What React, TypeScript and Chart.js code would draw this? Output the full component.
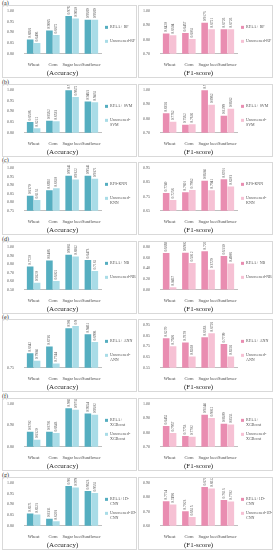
import React, { useEffect, useRef } from "react";
import { Chart, registerables } from "chart.js";
Chart.register(...registerables);

const categories = ["Wheat", "Corn", "Sugar beet", "Sunflower"];
const panelLabels = ["(a)", "(b)", "(c)", "(d)", "(e)", "(f)", "(g)"];

// legend texts (line-wrapped as in the figure)
const legendRFAA = [["RFAA+ RF"], ["RFAA+ SVM"], ["RFS-KNN"], ["RFAA+ NB"], ["RFAA+ ANN"], ["RFAA+", "XGBoost"], ["RFAA+1D-", "CNN"]];
const legendUns = [
  ["Unscreened-RF"],
  ["Unscreened-", "SVM"],
  ["Unscreened-", "KNN"],
  ["Unscreened-NB"],
  ["Unscreened-", "ANN"],
  ["Unscreened-", "XGBoost"],
  ["Unscreened-1D-", "CNN"],
];

// Accuracy
const rfAccRFAA = [0.8668, 0.9085, 0.9763, 0.9589];
const rfAccUns = [0.8496, 0.8872, 0.965, 0.9589];
const svmAccRFAA = [0.8506, 0.8562, 0.9991, 0.9463];
const svmAccUns = [0.8212, 0.8533, 0.9672, 0.9431];
const knnAccRFAA = [0.837, 0.8692, 0.9541, 0.9541];
const knnAccUns = [0.8131, 0.881, 0.9322, 0.9371];
const nbAccRFAA = [0.772, 0.8406, 0.9081, 0.8473];
const nbAccUns = [0.582, 0.6021, 0.8882, 0.7181];
const annAccRFAA = [0.8342, 0.8738, 0.9803, 0.9461];
const annAccUns = [0.7904, 0.7744, 0.9948, 0.8998];
const xgbAccRFAA = [0.8702, 0.8701, 0.9802, 0.9554];
const xgbAccUns = [0.832, 0.8643, 0.9731, 0.9502];
const cnnAccRFAA = [0.8571, 0.8331, 0.9861, 0.9623];
const cnnAccUns = [0.8523, 0.8203, 0.9792, 0.9531];

// F1-score
const rfF1RFAA = [0.842, 0.8457, 0.9173, 0.8726];
const rfF1Uns = [0.8304, 0.8031, 0.8721, 0.8726];
const svmF1RFAA = [0.8358, 0.7562, 0.9991, 0.8199];
const svmF1Uns = [0.7762, 0.7602, 0.8962, 0.8682];
const knnF1RFAA = [0.774, 0.7801, 0.8604, 0.8701];
const knnF1Uns = [0.7258, 0.7962, 0.7941, 0.8203];
const nbF1RFAA = [0.6868, 0.6902, 0.7207, 0.633];
const nbF1Uns = [0.0457, 0.5012, 0.3729, 0.4908];
const annF1RFAA = [0.827, 0.787, 0.8363, 0.7709];
const annF1Uns = [0.7508, 0.656, 0.8728, 0.6558];
const xgbF1RFAA = [0.8452, 0.7753, 0.9244, 0.8609];
const xgbF1Uns = [0.7957, 0.7702, 0.9012, 0.8551];
const cnnF1RFAA = [0.7714, 0.7023, 0.8717, 0.7813];
const cnnF1Uns = [0.7498, 0.6615, 0.8612, 0.7702];

// axis ranges [min, max, step]
const accAxes = [
  [0.8, 1.0, 0.05],
  [0.8, 1.0, 0.05],
  [0.75, 1.0, 0.05],
  [0.5, 1.0, 0.1],
  [0.75, 1.0, 0.1],
  [0.8, 1.0, 0.1],
  [0.8, 1.0, 0.05],
];
const f1Axes = [
  [0.7, 1.0, 0.1],
  [0.7, 1.0, 0.1],
  [0.65, 0.95, 0.1],
  [0.0, 0.8, 0.2],
  [0.55, 0.95, 0.1],
  [0.7, 1.0, 0.1],
  [0.6, 0.9, 0.1],
];

const accRFAA = [rfAccRFAA, svmAccRFAA, knnAccRFAA, nbAccRFAA, annAccRFAA, xgbAccRFAA, cnnAccRFAA];
const accUns = [rfAccUns, svmAccUns, knnAccUns, nbAccUns, annAccUns, xgbAccUns, cnnAccUns];
const f1RFAA = [rfF1RFAA, svmF1RFAA, knnF1RFAA, nbF1RFAA, annF1RFAA, xgbF1RFAA, cnnF1RFAA];
const f1Uns = [rfF1Uns, svmF1Uns, knnF1Uns, nbF1Uns, annF1Uns, xgbF1Uns, cnnF1Uns];

const FONT = "'Liberation Serif', 'DejaVu Serif', serif";

const valueLabelPlugin = {
  id: "valueLabels",
  afterDatasetsDraw(chart: any) {
    const ctx = chart.ctx;
    ctx.save();
    ctx.font = `3.6px ${FONT}`;
    ctx.fillStyle = "#555";
    chart.data.datasets.forEach((ds: any, di: number) => {
      const meta = chart.getDatasetMeta(di);
      meta.data.forEach((el: any, i: number) => {
        const v = ds.data[i];
        ctx.save();
        ctx.translate(el.x, el.y - 1.5);
        ctx.rotate(-Math.PI / 2);
        ctx.textAlign = "left";
        ctx.textBaseline = "middle";
        ctx.fillText(v.toFixed(4), 0, 0);
        ctx.restore();
      });
    });
    ctx.restore();
  },
};

const sideLegendPlugin = {
  id: "sideLegend",
  afterDraw(chart: any) {
    const ctx = chart.ctx;
    const area = chart.chartArea;
    const x = area.right + 4;
    const cy = (area.top + area.bottom) / 2;
    const items = (chart.options.plugins.sideLegend || {}).items || [];
    ctx.save();
    ctx.font = `4px ${FONT}`;
    ctx.textBaseline = "middle";
    ctx.textAlign = "left";
    items.forEach((it: any, k: number) => {
      const y = cy + (k === 0 ? -5 : 9);
      ctx.fillStyle = it.color;
      ctx.fillRect(x, y - 1.5, 3, 3);
      ctx.fillStyle = "#555";
      it.lines.forEach((ln: string, j: number) => {
        ctx.fillText(ln, x + 5, y + j * 4.5);
      });
    });
    ctx.restore();
  },
};

type Spec = {
  a: number[];
  b: number[];
  axis: number[];
  la: string[];
  lb: string[];
  title: string;
  c1: string;
  c2: string;
};

function BarChart({ spec }: { spec: Spec }) {
  const ref = useRef<HTMLCanvasElement>(null);
  useEffect(() => {
    const [mn, mx, st] = spec.axis;
    const chart = new Chart(ref.current as HTMLCanvasElement, {
      type: "bar",
      data: {
        labels: categories,
        datasets: [
          { label: spec.la.join(""), data: spec.a, backgroundColor: spec.c1 },
          { label: spec.lb.join(""), data: spec.b, backgroundColor: spec.c2 },
        ],
      },
      options: {
        responsive: false,
        animation: false,
        devicePixelRatio: 1,
        layout: { padding: { top: 5, left: 2, right: 35, bottom: 0 } },
        datasets: { bar: { categoryPercentage: 0.72, barPercentage: 0.95 } },
        plugins: {
          legend: { display: false },
          tooltip: { enabled: false },
          sideLegend: {
            items: [
              { lines: spec.la, color: spec.c1 },
              { lines: spec.lb, color: spec.c2 },
            ],
          },
        } as any,
        scales: {
          x: {
            grid: { display: false },
            border: { display: true, color: "#bfbfbf" },
            ticks: { color: "#444", font: { size: 4.5, family: FONT, lineHeight: 1.1 }, padding: 1, maxRotation: 0, autoSkip: false },
            title: {
              display: true,
              text: spec.title,
              color: "#222",
              font: { size: 7, family: FONT, lineHeight: 1.05 },
              padding: { top: 1, bottom: 0 },
            },
          },
          y: {
            min: mn,
            max: mx,
            grid: { display: false },
            border: { display: false },
            ticks: {
              stepSize: st,
              color: "#555",
              padding: 2,
              font: { size: 4, family: FONT },
              callback: (v: any) => {
                const n = Number(v);
                const k = Math.round((n - mn) / st);
                if (Math.abs(mn + k * st - n) > 1e-6) return "";
                return n.toFixed(2);
              },
            },
          },
        },
      },
      plugins: [valueLabelPlugin, sideLegendPlugin],
    });
    return () => chart.destroy();
  }, []);
  return <canvas ref={ref} width={133} height={71} style={{ display: "block" }} />;
}

export default function App() {
  return (
    <div
      style={{
        position: "absolute",
        left: 0,
        top: 0,
        width: 274,
        height: 550,
        background: "#fff",
        fontFamily: FONT,
        overflow: "hidden",
      }}
    >
      {panelLabels.map((lab, i) => {
        const top = Math.round(i * 78.6);
        return (
          <div key={lab} style={{ position: "absolute", left: 0, top, width: 274, height: 78 }}>
            <div style={{ position: "absolute", left: 2, top: 0, fontSize: 6, lineHeight: "7px", color: "#222" }}>{lab}</div>
            <div style={{ position: "absolute", left: 2, top: 5, width: 133, height: 71, border: "1px solid #d9d9d9" }}>
              <BarChart
                spec={{ a: accRFAA[i], b: accUns[i], axis: accAxes[i], la: legendRFAA[i], lb: legendUns[i], title: "(Accuracy)", c1: "#55aec0", c2: "#a9dce7" }}
              />
            </div>
            <div style={{ position: "absolute", left: 138, top: 5, width: 133, height: 71, border: "1px solid #d9d9d9" }}>
              <BarChart
                spec={{ a: f1RFAA[i], b: f1Uns[i], axis: f1Axes[i], la: legendRFAA[i], lb: legendUns[i], title: "(F1-score)", c1: "#e98db1", c2: "#f6c1d4" }}
              />
            </div>
          </div>
        );
      })}
    </div>
  );
}
